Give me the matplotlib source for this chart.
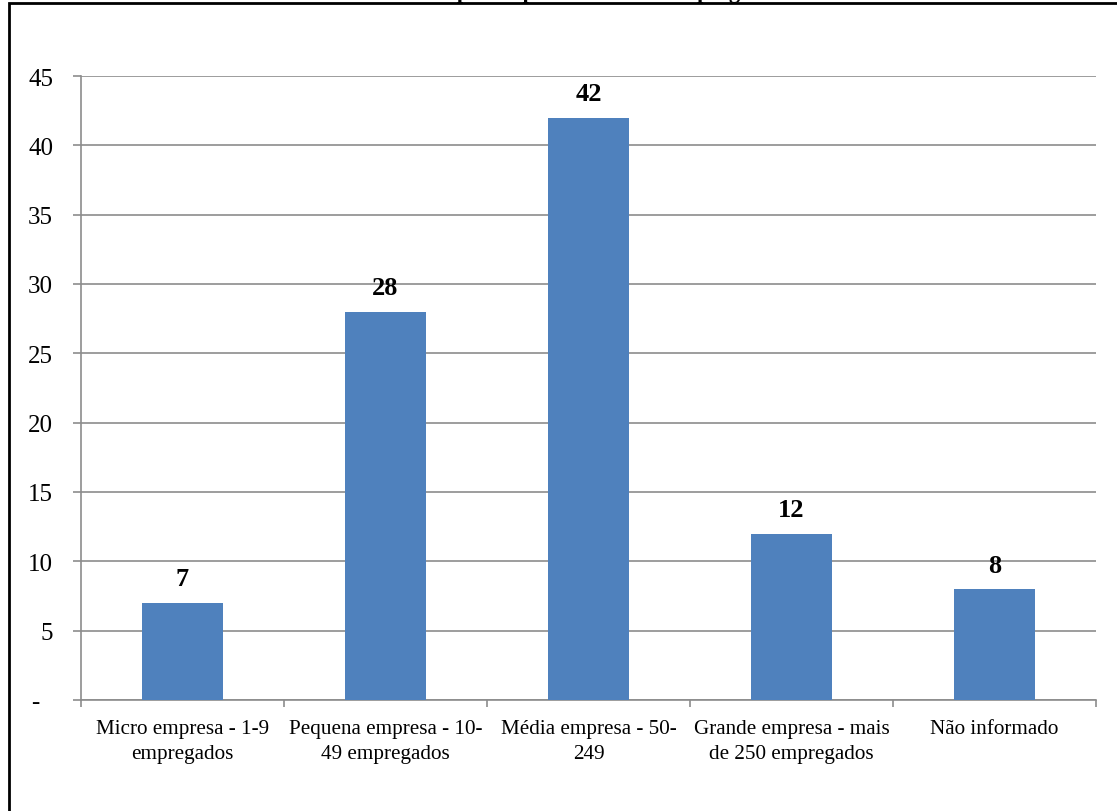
import matplotlib
matplotlib.use("Agg")
import matplotlib.pyplot as plt
from matplotlib.patches import Rectangle

categories = [
    "Micro empresa - 1-9\nempregados",
    "Pequena empresa - 10-\n49 empregados",
    "Média empresa - 50-\n249",
    "Grande empresa - mais\nde 250 empregados",
    "Não informado",
]
values = [7, 28, 42, 12, 8]
y_ticks = [0, 5, 10, 15, 20, 25, 30, 35, 40, 45]
y_tick_labels = ["-  ", "5", "10", "15", "20", "25", "30", "35", "40", "45"]
title = "Porte das empresas por número de empregados"

plt.rcParams["font.family"] = ["Liberation Serif", "DejaVu Serif"]

W, H = 1117, 812
fig = plt.figure(figsize=(W / 100, H / 100), dpi=100)
ax = fig.add_axes([81 / W, 1 - 701 / H, (1096 - 81) / W, (701 - 77) / H])

x = list(range(len(categories)))
bar_color = "#4F81BD"
ax.bar(x, values, width=0.4, color=bar_color, zorder=3)

for xi, v in zip(x, values):
    ax.annotate(str(v), (xi, v), xytext=(0, 9), textcoords="offset points",
                ha="center", va="bottom", fontsize=19, fontweight="bold")

ax.set_xlim(-0.5, len(categories) - 0.5)
ax.set_ylim(0, 45)
ax.set_yticks(y_ticks)
ax.set_yticklabels(y_tick_labels, fontsize=18)
ax.yaxis.grid(True, color="#8C8C8C", linewidth=1.2, zorder=0)
ax.tick_params(axis="y", length=6, width=1.2, color="#8C8C8C", pad=14)

ax.set_xticks(x)
ax.set_xticklabels(categories, fontsize=15.2, linespacing=1.4)
ax.tick_params(axis="x", which="major", length=0, pad=14)
ax.set_xticks([i - 0.5 for i in range(len(categories) + 1)], minor=True)
ax.tick_params(axis="x", which="minor", length=5, width=1.2, color="#8C8C8C")

for side in ("top", "right"):
    ax.spines[side].set_visible(False)
for side in ("left", "bottom"):
    ax.spines[side].set_color("#8C8C8C")
    ax.spines[side].set_linewidth(1.2)

# outer chart frame
fig.patches.append(Rectangle((9 / W, -0.1), 1.2, 1 - 4 / H + 0.1,
                             transform=fig.transFigure, fill=False,
                             edgecolor="black", linewidth=2))
fig.text(0.5, 1 + 2 / H, title, ha="center", va="baseline",
         fontsize=16, fontweight="bold")

fig.savefig("out.png", dpi=100)
